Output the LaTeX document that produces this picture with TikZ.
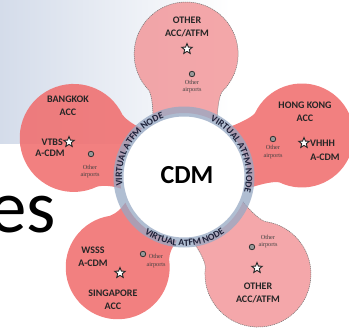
\documentclass[tikz,border=0pt]{standalone}
\usepackage{fontspec}
\setmainfont{Carlito}
\newfontfamily\tinyserif{Liberation Serif}
\usetikzlibrary{shapes.geometric,decorations.text,calc}
\definecolor{petalred}{RGB}{240,110,110}
\definecolor{petalpink}{RGB}{242,152,155}
\definecolor{ringblue}{RGB}{150,168,195}
\definecolor{gradblue}{RGB}{212,220,234}
\definecolor{ringtext}{RGB}{30,34,58}
\newcommand{\petalrim}[2]{(30:64) .. controls (63,32) and ($(#1,0)+(135:#2)+(-6,-4)$) .. ($(#1,0)+(135:#2)$) arc[start angle=135,end angle=-135,radius=#2] .. controls ($(#1,0)+(-135:#2)+(-6,4)$) and (63,-32) .. (-30:64)}
\newcommand{\ringfont}{\bfseries\fontsize{9.6}{10.5}\selectfont}
\tikzset{
  lbl/.style={font=\bfseries\fontsize{10}{13}\selectfont,text=black!85,align=center,inner sep=0pt},
  tinylbl/.style={font=\tinyserif\fontsize{6.2}{7.5}\selectfont,text=black!75,align=center,inner sep=0pt},
  hub/.style={star,star points=5,star point ratio=2.3,minimum size=11pt,inner sep=0pt,draw=black!85,fill=white,line width=0.9pt},
  apt/.style={circle,minimum size=5.5pt,inner sep=0pt,draw=black!80,fill=black!40,line width=0.8pt},
  solidpetal/.style={fill=petalred,fill opacity=0.88},
  palepetal/.style={fill=petalpink,fill opacity=0.85},
  petaledge/.style={draw=black!55,dash pattern=on 1.2pt off 0.8pt,line width=0.5pt},
  noedge/.style={draw=none},
  ringword/.style={decorate,decoration={text along path,text align=center,text color=ringtext,text={|\ringfont|VIRTUAL ATFM NODE}}}
}
\begin{document}
\begin{tikzpicture}[x=1pt,y=1pt]
  \useasboundingbox (-184,-153) rectangle (165,177);
  \shade[left color=gradblue,right color=white] (-184,34) rectangle (46,177);
  \node[font=\fontsize{75}{80}\selectfont,anchor=base east,inner sep=0pt] (es) at (-127.5,-55) {es};
  \foreach \ang/\dist/\rad/\kind/\rim in {89/123/52/palepetal/petaledge,19.4/125/52/solidpetal/noedge,-52.7/122/53/palepetal/petaledge,-126.3/112/52/solidpetal/noedge,160.5/117/54/solidpetal/noedge}{
    \begin{scope}[rotate=\ang]
      \fill[\kind] \petalrim{\dist}{\rad} arc[start angle=-30,end angle=30,radius=64] -- cycle;
      \draw[\rim] \petalrim{\dist}{\rad};
    \end{scope}
  }
  \fill[white] (0,0) circle (60.5);
  \fill[ringblue,fill opacity=0.75,even odd rule] (0,0) circle (70.5) (0,0) circle (60.5);
  \path[ringword] (191.5:62) arc[start angle=191.5,end angle=105.5,radius=62];
  \path[ringword] (68.5:62) arc[start angle=68.5,end angle=-17.5,radius=62];
  \path[ringword] (-132:69) arc[start angle=-132,end angle=-47,radius=69];
  \node[font=\bfseries\fontsize{26}{28}\selectfont,inner sep=0pt] (cdm) at (3,2) {CDM};
  \node[lbl] (topacc) at (3,150) {OTHER\\ACC/ATFM};
  \node[hub] (topstar) at (3,128) {};
  \node[apt] (topapt) at (8,103) {};
  \node[tinylbl] (toptxt) at (8,90.5) {Other\\airports};
  \node[lbl] (bkkacc) at (-116,71) {BANGKOK\\ACC};
  \node[hub] (bkkstar) at (-115,35) {};
  \node[lbl,anchor=east] (vtbs) at (-121,35) {VTBS};
  \node[lbl] (bkkcdm) at (-134,24) {A-CDM};
  \node[apt] (bkkapt) at (-93,23) {};
  \node[tinylbl] (bkktxt) at (-94,5.5) {Other\\airports};
  \node[lbl] (hkgacc) at (121,65) {HONG KONG\\ACC};
  \node[apt] (hkgapt) at (89,38) {};
  \node[tinylbl] (hkgtxt) at (89,25) {Other\\airports};
  \node[hub] (hkgstar) at (120,34) {};
  \node[lbl,anchor=west] (vhhh) at (126,34) {VHHH};
  \node[lbl] (hkgcdm) at (141,20) {A-CDM};
  \node[lbl] (wsss) at (-91,-79.5) {WSSS\\A-CDM};
  \node[hub] (sinstar) at (-64,-96) {};
  \node[apt] (sinapt) at (-41,-77) {};
  \node[tinylbl] (sintxt) at (-28,-84) {Other\\airports};
  \node[lbl] (sinacc) at (-71,-123) {SINGAPORE\\ACC};
  \node[tinylbl] (lrtxt) at (84,-64.5) {Other\\airports};
  \node[apt] (lrapt) at (68,-70) {};
  \node[hub] (lrstar) at (73,-91) {};
  \node[lbl] (lracc) at (74,-115.5) {OTHER\\ACC/ATFM};
\end{tikzpicture}
\end{document}
